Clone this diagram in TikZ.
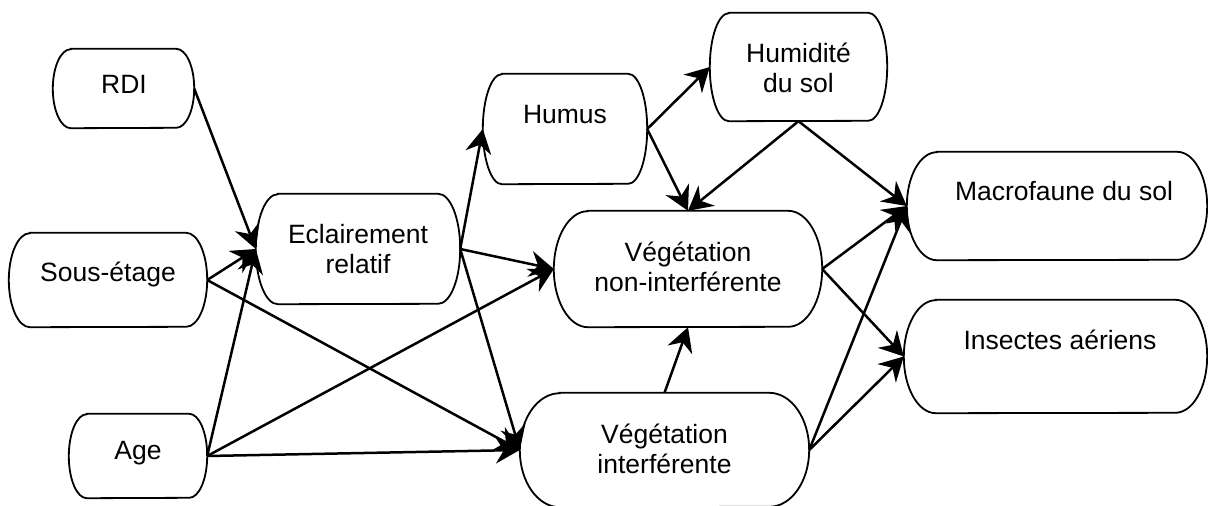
\documentclass[tikz,border=0pt]{standalone}
\usepackage{fontspec}
\setmainfont{Liberation Sans}
\usetikzlibrary{arrows.meta}
\tikzset{
  box/.style={rectangle, inner sep=0pt, draw=none},
  outline/.style={line width=1.8pt, black},
  txt/.style={font=\fontsize{26.5}{30}\selectfont, align=center, inner sep=0pt, anchor=base},
  arr/.style={line width=2.5pt, -{Stealth[length=24pt,width=26pt,inset=8pt]}}
}
\newcommand\termbox[3]{\draw[outline] ([xshift=#2pt]#1.north west) -- ([xshift=-#2pt]#1.north east) arc[start angle=90,end angle=-90,x radius=#2pt,y radius=#3pt] -- ([xshift=#2pt]#1.south west) arc[start angle=270,end angle=90,x radius=#2pt,y radius=#3pt] -- cycle;}
\begin{document}
\begin{tikzpicture}[x=1pt,y=-1pt]
\useasboundingbox (0,0) rectangle (1208,506);
% boxes
\node[box, minimum width=141pt, minimum height=79pt]  (rdi)    at (123.5,88.5) {};
\node[box, minimum width=198pt, minimum height=94pt]  (sous)   at (108,280) {};
\node[box, minimum width=138pt, minimum height=84pt]  (age)    at (138,456) {};
\node[box, minimum width=204pt, minimum height=110pt] (ecl)    at (358,249) {};
\node[box, minimum width=164pt, minimum height=110pt] (humus)  at (565,129) {};
\node[box, minimum width=177pt, minimum height=108pt] (humid)  at (798.5,67) {};
\node[box, minimum width=268pt, minimum height=116pt] (vni)    at (688,269) {};
\node[box, minimum width=289pt, minimum height=114pt] (vi)     at (664.5,450) {};
\node[box, minimum width=300pt, minimum height=108pt] (macro)  at (1057,206) {};
\node[box, minimum width=303pt, minimum height=113pt] (insect) at (1055.5,356.5) {};
\termbox{rdi}{18}{39.5}
\termbox{sous}{21}{47}
\termbox{age}{18}{42}
\termbox{ecl}{22}{55}
\termbox{humus}{19}{55}
\termbox{humid}{19}{54}
\termbox{vni}{34}{58}
\termbox{vi}{40}{57}
\termbox{macro}{30}{54}
\termbox{insect}{32}{56.5}
% texts
\node[txt] (trdi)    at (124,93)    {RDI};
\node[txt] (tsous)   at (108,281)   {Sous-étage};
\node[txt] (tage)    at (138,459)   {Age};
\node[txt] (tecl)    at (358,273)   {Eclairement\\relatif};
\node[txt] (thumus)  at (565,123)   {Humus};
\node[txt] (thumid)  at (798.5,92)  {Humidité\\du sol};
\node[txt] (tvni)    at (688,291)   {Végétation\\non-interférente};
\node[txt] (tvi)     at (664.5,473) {Végétation\\interférente};
\node[txt] (tmacro)  at (1064,200)  {Macrofaune du sol};
\node[txt] (tinsect) at (1060,349)  {Insectes aériens};
% connectors
\draw[arr] (rdi.east) -- (ecl.west);
\draw[arr] (sous.east) -- (ecl.west);
\draw[arr] (age.east) -- (ecl.west);
\draw[arr] (sous.east) -- (vi.west);
\draw[arr] (age.east) -- (vi.west);
\draw[arr] (age.east) -- (vni.west);
\draw[arr] (ecl.east) -- (humus.west);
\draw[arr] (ecl.east) -- (vni.west);
\draw[arr] (ecl.east) -- (vi.west);
\draw[arr] (humus.east) -- (humid.west);
\draw[arr] (humus.east) -- (vni.north);
\draw[arr] (humid.south) -- (vni.north);
\draw[arr] (humid.south) -- (macro.west);
\draw[arr] (vi.north) -- (vni.south);
\draw[arr] (vni.east) -- (macro.west);
\draw[arr] (vni.east) -- (insect.west);
\draw[arr] (vi.east) -- (macro.west);
\draw[arr] (vi.east) -- (insect.west);
\end{tikzpicture}
\end{document}
